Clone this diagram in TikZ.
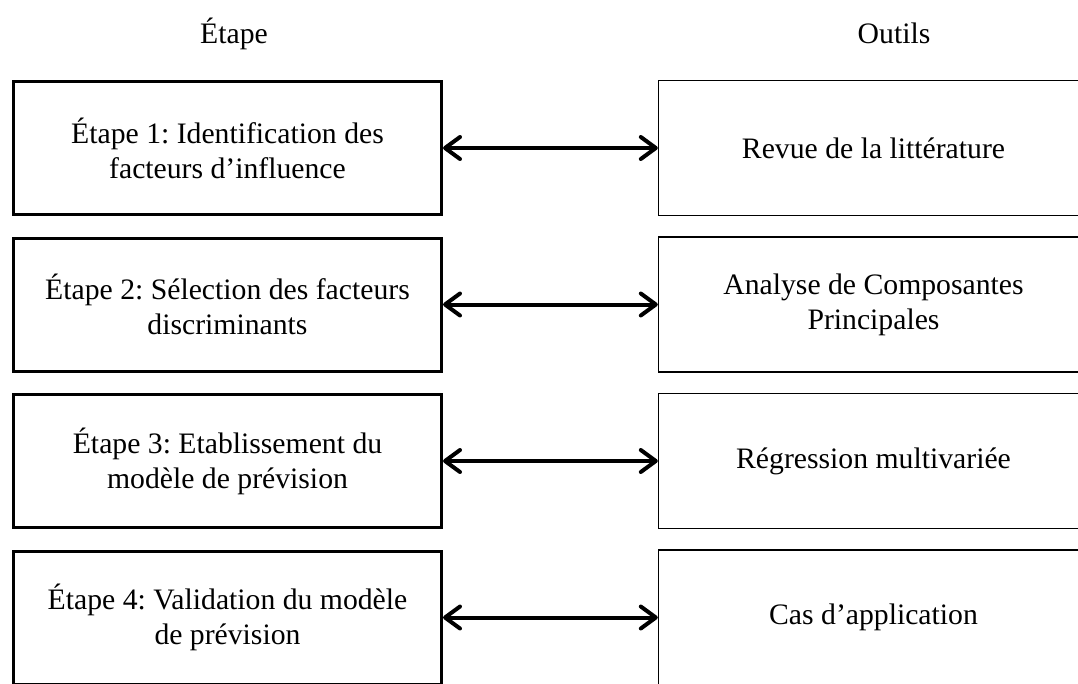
\documentclass[tikz,border=0pt]{standalone}
\usepackage{fontspec}
\setmainfont{Liberation Serif}
\usetikzlibrary{arrows.meta}
\frenchspacing
\begin{document}
\begin{tikzpicture}[x=1pt,y=-1pt,
  every node/.style={font=\fontsize{29.7}{35}\selectfont\frenchspacing, inner sep=0pt},
  stepbox/.style={draw=black, line width=3pt, rectangle, minimum width=428pt, minimum height=133pt, align=center},
  toolbox/.style={draw=black, line width=1.4pt, rectangle, minimum width=430pt, minimum height=135pt, align=center},
  head/.style={anchor=base},
  link/.style={line width=4pt, {Straight Barb[length=15pt,width=22pt,line cap=round,line join=round]}-{Straight Barb[length=15pt,width=22pt,line cap=round,line join=round]}}
]
\useasboundingbox (0,0) rectangle (1078,683);
\begin{scope}
\clip (0,0) rectangle (1078,683);
\node[head] (hstep) at (234,43) {Étape};
\node[head] (htool) at (894,43) {Outils};

\node[stepbox] (s1) at (227.5,148) {Étape 1: Identification des\\facteurs d’influence};
\node[stepbox] (s2) at (227.5,304.5) {Étape 2: Sélection des facteurs\\discriminants};
\node[stepbox] (s3) at (227.5,461) {Étape 3: Etablissement du\\modèle de prévision};
\node[stepbox] (s4) at (227.5,617.5) {Étape 4: Validation du modèle\\de prévision};

\node[toolbox] (t1) at (873.5,148) {Revue de la littérature};
\node[toolbox] (t2) at (873.5,304.5) {Analyse de Composantes\\Principales};
\node[toolbox] (t3) at (873.5,461) {Régression multivariée};
\node[toolbox] (t4) at (873.5,617.5) {Cas d’application};

\draw[link] (s1.east) -- (t1.west);
\draw[link] (s2.east) -- (t2.west);
\draw[link] (s3.east) -- (t3.west);
\draw[link] (s4.east) -- (t4.west);
\end{scope}
\end{tikzpicture}
\end{document}
